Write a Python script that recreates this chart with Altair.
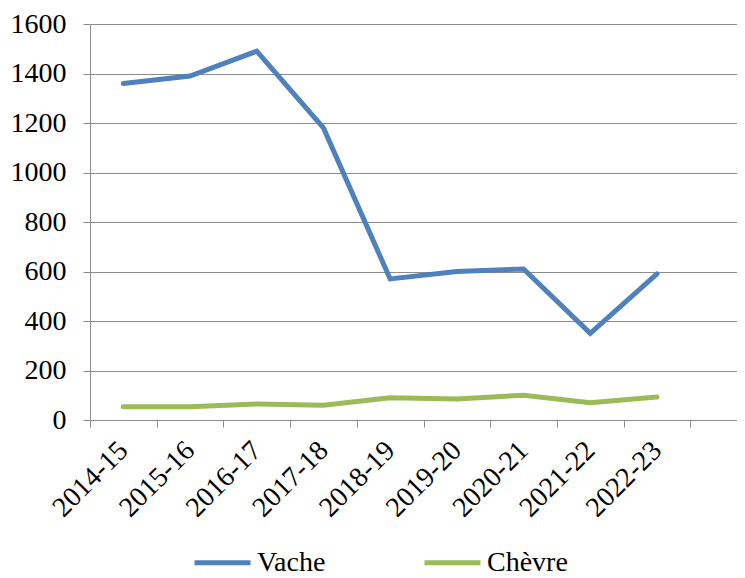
import altair as alt
import pandas as pd

seasons = ["2014-15", "2015-16", "2016-17", "2017-18", "2018-19",
           "2019-20", "2020-21", "2021-22", "2022-23"]
vache = [1360, 1390, 1490, 1180, 570, 600, 610, 350, 590]
chevre = [54, 54, 65, 60, 90, 85, 100, 70, 93]
series_names = ["Vache", "Chèvre"]
series_colors = ["#4F81BD", "#9BBB59"]
y_ticks = [0, 200, 400, 600, 800, 1000, 1200, 1400, 1600]

rows = []
for s, v in zip(seasons, vache):
    rows.append({"season": s, "serie": "Vache", "value": v})
for s, v in zip(seasons, chevre):
    rows.append({"season": s, "serie": "Chèvre", "value": v})
df = pd.DataFrame(rows)

FONT = "Liberation Serif"
GRAY = "#8C8C8C"
FS = 28

chart = alt.Chart(df).mark_line(strokeWidth=5, strokeCap="round").encode(
    x=alt.X("season:O", sort=seasons, title=None,
            scale=alt.Scale(type="band", domain=seasons, paddingInner=0,
                            paddingOuter=0.5, align=0, range=[0, 667]),
            axis=alt.Axis(labelAngle=-45, labelAlign="right", labelBaseline="middle",
                          labelPadding=19, labelOffset=0,
                          tickBand="extent", tickSize=7, tickColor=GRAY,
                          domain=False, grid=False)),
    y=alt.Y("value:Q", title=None,
            scale=alt.Scale(domain=[0, 1600], nice=False),
            axis=alt.Axis(values=y_ticks, format="d",
                          labelPadding=17, tickSize=7,
                          tickColor=GRAY, domainColor=GRAY, gridColor=GRAY,
                          gridWidth=1)),
    color=alt.Color("serie:N", sort=series_names,
                    scale=alt.Scale(domain=series_names, range=series_colors),
                    legend=alt.Legend(title=None, orient="none", legendX=102, legendY=508,
                                      direction="horizontal", symbolType="stroke",
                                      symbolSize=3136, symbolStrokeWidth=5,
                                      labelOffset=4, columnPadding=88)),
    detail="serie:N",
).properties(
    width=647, height=396,
    autosize=alt.AutoSizeParams(type="none"),
    padding={"left": 82, "top": 16, "right": 0, "bottom": 158},
).configure(
    font=FONT,
).configure_axis(
    labelFont=FONT, labelFontSize=FS, labelColor="black",
).configure_legend(
    labelFont=FONT, labelFontSize=FS, labelColor="black",
).configure_view(strokeWidth=0)

chart.save("out.html", embed_options={"renderer": "svg", "actions": False})
